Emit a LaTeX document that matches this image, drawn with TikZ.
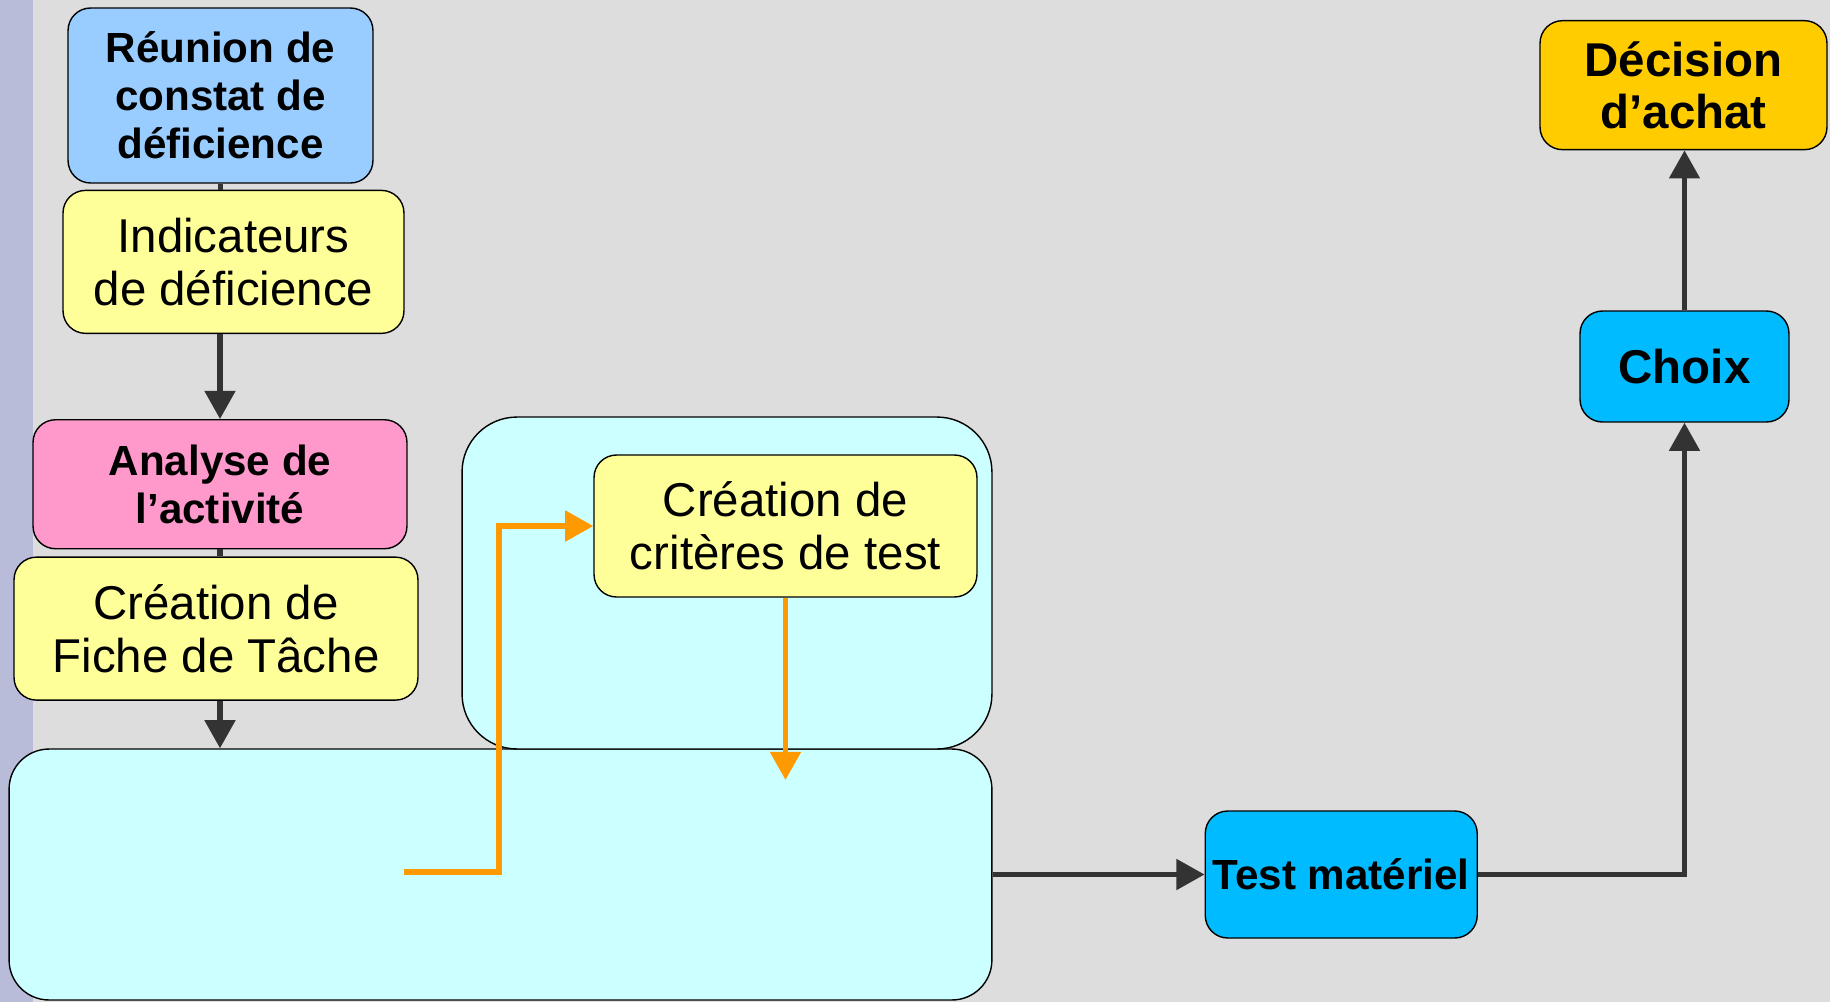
\documentclass[tikz,border=0pt]{standalone}
\usepackage{fontspec}
\setmainfont{Liberation Sans}
\usetikzlibrary{positioning,arrows.meta}
\definecolor{fond}{HTML}{DDDDDD}
\definecolor{bande}{HTML}{B8BCD9}
\definecolor{bleuclair}{HTML}{99CCFF}
\definecolor{jaune}{HTML}{FFFF99}
\definecolor{rose}{HTML}{FF99CC}
\definecolor{cyanpale}{HTML}{CCFFFF}
\definecolor{bleuvif}{HTML}{00BBFF}
\definecolor{dore}{HTML}{FFCC00}
\definecolor{fleche}{HTML}{333333}
\definecolor{orangeclair}{HTML}{FF9900}

\begin{document}
\begin{tikzpicture}[x=0.02cm,y=-0.02cm,
	Etape/.style={draw=black, line width=0.8pt, rounded corners=0.45cm, align=center, inner sep=0pt},
	TexteGras/.style={font=\bfseries\fontsize{24}{27.3}\selectfont},
	TexteGrand/.style={font=\bfseries\fontsize{27}{29.6}\selectfont},
	TexteFin/.style={font=\fontsize{27}{30.2}\selectfont},
	Trait/.style={line width=3pt, color=fleche},
	Lien/.style={line width=3pt, color=fleche, -{Triangle[length=16pt,width=17pt]}},
	LienOrange/.style={line width=3.2pt, color=orangeclair, -{Triangle[length=16pt,width=17pt]}}]
	\fill[fond] (0,0) rectangle (1830,1002);
	\fill[bande] (0,0) rectangle (33,1002);
	\useasboundingbox (0,0) rectangle (1830,1002);
	\tikzset{Etape/.append style={fill=bleuclair}}
	\node[Etape, TexteGras, minimum width=6.1cm, minimum height=3.5cm] (reunion) at (220.5,95.5) {Réunion de\\constat de\\déficience};
	\tikzset{Etape/.append style={fill=jaune}}
	\node[Etape, TexteFin, minimum width=6.82cm, minimum height=2.86cm, below=0.12cm of reunion, xshift=0.26cm] (indicateurs) {Indicateurs\\de déficience};
	\tikzset{Etape/.append style={fill=rose}}
	\node[Etape, TexteGras, minimum width=7.48cm, minimum height=2.58cm, below=1.7cm of indicateurs, xshift=-0.27cm] (analyse) {Analyse de\\l’activité};
	\tikzset{Etape/.append style={fill=jaune}}
	\node[Etape, TexteFin, minimum width=8.08cm, minimum height=2.86cm, below=0.14cm of analyse, xshift=-0.08cm] (fiche) {Création de\\Fiche de Tâche};
	\tikzset{Etape/.append style={fill=cyanpale}}
	\node[Etape, rounded corners=0.8cm, minimum width=19.66cm, minimum height=5.02cm] (cadreBas) at (500.5,874.5) {};
	\node[Etape, rounded corners=1.1cm, minimum width=10.6cm, minimum height=6.64cm] (cadreHaut) at (727,583) {};
	\tikzset{Etape/.append style={fill=jaune}}
	\node[Etape, TexteFin, minimum width=7.66cm, minimum height=2.84cm] (criteres) at (785.5,526) {Création de\\critères de test};
	\tikzset{Etape/.append style={fill=bleuvif}}
	\node[Etape, TexteGras, minimum width=5.44cm, minimum height=2.54cm, right=4.24cm of cadreBas] (test) {Test matériel};
	\node[Etape, TexteGrand, minimum width=4.18cm, minimum height=2.22cm] (choix) at (1684.5,366.5) {Choix};
	\tikzset{Etape/.append style={fill=dore}}
	\node[Etape, TexteGrand, minimum width=5.74cm, minimum height=2.58cm, above=3.2cm of choix, xshift=-0.02cm] (decision) {Décision\\d’achat};
	\coordinate (departOrange) at (404,872);
	\coordinate (coude) at (499,872);
	\coordinate (finOrange) at (786,780);
	\draw[Trait] (reunion.south) -- (reunion.south |- indicateurs.north);
	\draw[Lien] (indicateurs.south -| analyse.north) -- (analyse.north);
	\draw[Trait] (analyse.south) -- (analyse.south |- fiche.north);
	\draw[Lien] (fiche.south -| analyse.south) -- (cadreBas.north -| analyse.south);
	\draw[LienOrange] (departOrange) -- (coude) |- (criteres.west);
	\draw[LienOrange] (criteres.south) -- (criteres.south |- finOrange);
	\draw[Lien] (cadreBas.east) -- (test.west);
	\draw[Lien] (test.east) -| (choix.south);
	\draw[Lien] (choix.north) -- (choix.north |- decision.south);
\end{tikzpicture}
\end{document}
